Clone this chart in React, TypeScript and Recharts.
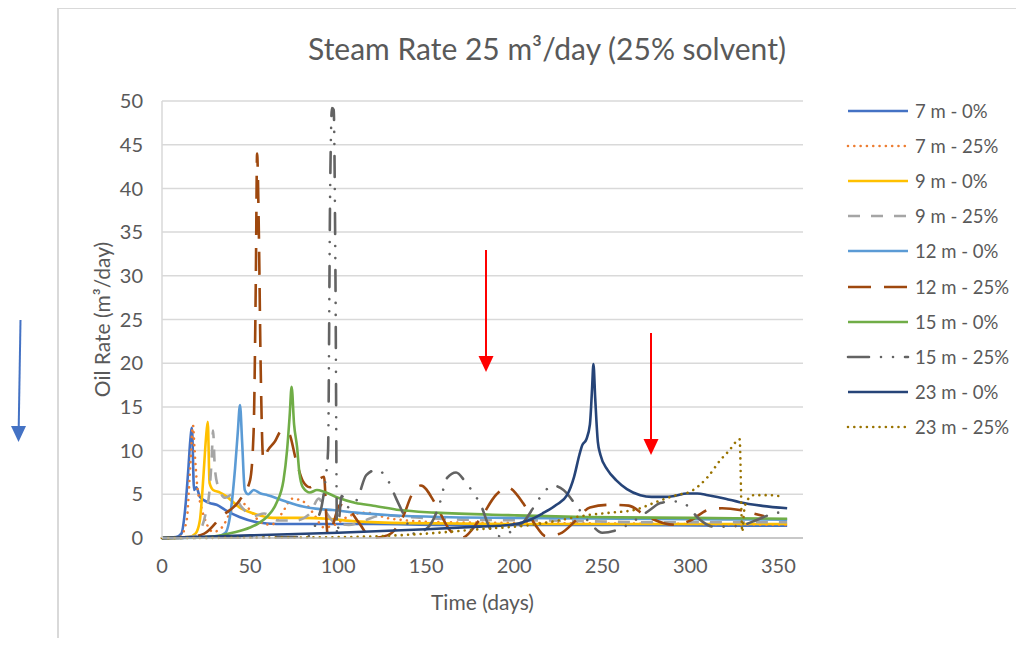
import React from 'react';
import { LineChart, Line, XAxis, YAxis, CartesianGrid, Legend, Label } from 'recharts';

// ---- tick labels ----
const xTicks = [0, 50, 100, 150, 200, 250, 300, 350];
const yTicks = [0, 5, 10, 15, 20, 25, 30, 35, 40, 45, 50];

// ---- series: time (days) and oil rate (m3/day) ----
const t7m0 = [0, 8, 11, 13, 15, 16, 17, 18.2, 19.5, 21.5, 24, 27, 31, 36, 44, 54, 65, 90, 120, 160, 200, 260, 320, 355];
const v7m0 = [0, 0.1, 0.5, 3, 8, 11, 12.6, 5.5, 5.8, 4.7, 4.3, 4, 3.8, 3.2, 2.4, 1.8, 1.6, 1.6, 1.6, 1.5, 1.5, 1.5, 1.4, 1.4];

const t7m25 = [0, 10, 14, 16, 17.6, 18.5, 20, 22, 25, 29, 34, 39, 44, 50, 56, 62, 68, 74, 80, 86, 92, 98, 106, 116, 130, 160, 220, 300, 355];
const v7m25 = [0, 0.1, 2, 8, 12.9, 10, 6, 3.8, 1.8, 0.7, 1.2, 3, 4.2, 3.2, 1.8, 1.5, 2.8, 4.5, 4.2, 2.8, 1.2, 1.5, 2.5, 2.9, 2.2, 1.8, 1.7, 1.6, 1.5];

const t9m0 = [0, 15, 19, 21.5, 23.5, 25, 26, 27, 29, 33, 37, 44, 52, 63, 80, 94, 110, 140, 200, 280, 355];
const v9m0 = [0, 0.1, 0.5, 2, 7, 11.5, 13.3, 6.3, 5.5, 5.2, 4.7, 3.5, 2.8, 2.3, 2.3, 2.2, 1.9, 1.7, 1.6, 1.6, 1.6];

const t9m25 = [0, 18, 22, 25, 27, 28.2, 29, 30, 32, 36, 40, 45, 52, 58, 66, 76, 84, 89, 93, 98, 106, 115, 125, 140, 170, 220, 280, 355];
const v9m25 = [0, 0.2, 1, 3, 5.5, 9, 12.3, 8, 5.8, 4.6, 5, 3.6, 2.5, 2.8, 2, 2, 2.8, 4.5, 3, 1.8, 1.5, 2, 2.6, 2.4, 2.1, 2, 1.8, 1.8];

const t12m0 = [0, 30, 36, 39, 41.5, 43, 44.3, 45.5, 47, 49, 52, 56, 60, 70, 80, 90, 97, 110, 130, 158, 200, 260, 355];
const v12m0 = [0, 0.1, 0.6, 3, 8, 12, 15.2, 11, 5.5, 5, 5.5, 5.1, 4.9, 4.2, 3.6, 3.3, 3.2, 2.9, 2.6, 2.4, 2.3, 2.2, 2.1];

const t12m25 = [0, 15, 24, 34, 44, 50, 52, 53.3, 54, 55, 56, 57.5, 60, 64, 68, 72, 76, 80, 84, 88, 92, 94, 97, 101, 106, 112, 119, 128, 137, 142, 147, 155, 163, 170, 180, 190, 196, 205, 212, 218, 226, 235, 243, 255, 265, 275, 285, 292, 300, 310, 318, 328, 336, 342];
const v12m25 = [0, 0.1, 0.5, 2.5, 4.3, 6.6, 12, 30, 44, 35, 20, 9, 10, 11, 12.3, 12, 9, 6.5, 5.8, 6.5, 7, 0.5, 1.5, 3.8, 3.3, 1.7, 0, 0.3, 2.5, 5, 6, 4, 1, 0, 2, 5, 5.8, 4, 1.5, 0.2, 0.5, 2, 3.5, 3.8, 3.7, 2.5, 1.7, 1.5, 2, 3.2, 3.4, 3.2, 2.8, 2.5];

const t15m0 = [0, 20, 30, 40, 50, 55, 60, 65, 69, 71, 72.5, 73.6, 75, 76.7, 78, 80, 84, 88, 92, 100, 110, 120, 135, 155, 200, 240, 300, 355];
const v15m0 = [0, 0.05, 0.2, 0.6, 1.2, 1.7, 2.5, 4, 6.6, 10, 14, 17.3, 13, 10.4, 7.5, 5.8, 5.2, 5.5, 5.3, 4.6, 4, 3.7, 3.2, 2.9, 2.6, 2.4, 2.3, 2.2];

const t15m25 = [0, 50, 75, 83, 88, 91, 93, 94.3, 95.5, 96.5, 97.5, 98.5, 99.4, 100.5, 102, 106, 111, 116, 122, 128, 133, 137, 143, 151, 157, 162, 167, 172, 177, 181, 186, 192, 200, 206, 211, 216, 222, 228, 236, 244, 250, 258, 266, 272, 277, 283, 290, 296, 306, 313, 321, 330, 337, 343, 348, 355];
const v15m25 = [0, 0.05, 0.1, 0.2, 2, 4, 7, 10, 40, 49.2, 49, 30, 0.3, 2, 4.8, 3.5, 4.5, 7.2, 7.8, 6.7, 4.5, 2.8, 0.5, 1.2, 3.5, 6.9, 7.5, 6.5, 5.1, 3.8, 1.2, 0.2, 1, 2, 3.5, 5, 6, 5.5, 3.5, 1.5, 0.6, 0.9, 1.7, 2.5, 3.2, 4, 4.2, 4, 2, 1.3, 1.3, 1.5, 2, 2.5, 2.9, 2.9];

const t23m0 = [0, 50, 100, 150, 180, 198, 208, 216, 224, 230, 234, 237, 238.6, 241, 243, 244.2, 245, 246, 247.5, 249, 253, 258, 264, 271.6, 278, 285, 291, 298, 304, 310, 320, 328, 340, 355];
const v23m0 = [0, 0.3, 0.6, 1.0, 1.3, 1.5, 2, 2.8, 3.8, 4.9, 7, 9.5, 10.6, 11.3, 13, 17, 19.9, 16, 11, 9.5, 7.8, 6.6, 5.6, 4.9, 4.7, 4.7, 4.8, 5.1, 5.1, 4.9, 4.5, 4.1, 3.7, 3.4];

const t23m25 = [0, 100, 150, 180, 210, 225, 241, 255, 268, 283, 292, 300, 305, 310, 317, 322, 327, 328, 329.5, 330.5, 332, 336, 345, 353];
const v23m25 = [0, 0.1, 0.5, 1, 1.5, 2, 2.6, 2.9, 3.2, 4.3, 4.9, 5.3, 6, 7, 8.9, 10, 11.2, 11.3, 0.7, 3, 4.2, 4.9, 4.9, 4.7];

const seriesNames = ['7 m - 0%', '7 m - 25%', '9 m - 0%', '9 m - 25%', '12 m - 0%', '12 m - 25%', '15 m - 0%', '15 m - 25%', '23 m - 0%', '23 m - 25%'];

const toData = (t: number[], v: number[]) => t.map((x, i) => ({ t: x, v: v[i] }));

type Style = { color: string; dash?: string; cap: 'butt' | 'round' };
const styles: Style[] = [
  { color: '#4472C4', cap: 'butt' },
  { color: '#ED7D31', dash: '0.01 6.3', cap: 'round' },
  { color: '#FFC000', cap: 'butt' },
  { color: '#A5A5A5', dash: '12 11', cap: 'butt' },
  { color: '#5B9BD5', cap: 'butt' },
  { color: '#9E480E', dash: '23 13', cap: 'butt' },
  { color: '#70AD47', cap: 'butt' },
  { color: '#636363', dash: '21 12 0.01 12 0.01 12', cap: 'round' },
  { color: '#264478', cap: 'butt' },
  { color: '#997300', dash: '0.01 6.3', cap: 'round' },
];

const rawSeries = [
  [t7m0, v7m0], [t7m25, v7m25], [t9m0, v9m0], [t9m25, v9m25], [t12m0, v12m0],
  [t12m25, v12m25], [t15m0, v15m0], [t15m25, v15m25], [t23m0, v23m0], [t23m25, v23m25],
];

const series = rawSeries.map(([t, v], i) => ({
  name: seriesNames[i],
  data: toData(t, v),
  ...styles[i],
}));

const FONT = "Lato, 'Open Sans', sans-serif";
const TXT = '#595959';

const LegendContent = () => (
  <div style={{ fontFamily: FONT }}>
    {series.map((s) => (
      <div key={s.name} style={{ display: 'flex', alignItems: 'center', height: 35.2 }}>
        <svg width={66} height={12}>
          <line x1={2} y1={6} x2={62} y2={6} stroke={s.color} strokeWidth={2.6}
            strokeDasharray={s.dash} strokeLinecap={s.cap} />
        </svg>
        <span style={{ fontSize: 18.5, color: TXT, marginLeft: 3, whiteSpace: 'nowrap' }}>{s.name}</span>
      </div>
    ))}
  </div>
);

export default function App() {
  return (
    <div style={{ position: 'relative', width: 1024, height: 646, margin: -8, overflow: 'hidden', background: '#fff', fontFamily: FONT }}>
      <div style={{ position: 'absolute', left: 57, top: 7, width: 1100, height: 800, borderLeft: '2px solid #D9D9D9', borderTop: '2px solid #D9D9D9', boxSizing: 'border-box' }} />
      <div style={{ position: 'absolute', left: 0, top: 30, width: 1094, textAlign: 'center', fontSize: 30, color: TXT, fontFamily: FONT }}>
        Steam Rate 25 m³/day (25% solvent)
      </div>
      <div style={{ position: 'absolute', left: 0, top: 0 }}>
        <LineChart width={1024} height={646} margin={{ top: 101, right: 221, bottom: 28, left: 100 }}>
          <CartesianGrid vertical={false} stroke="#D9D9D9" strokeWidth={1.5} />
          <XAxis type="number" dataKey="t" domain={[0, 364]} ticks={xTicks} interval={0}
            tickLine={false} axisLine={{ stroke: '#BFBFBF', strokeWidth: 1.5 }} height={80} tickMargin={15}
            tick={{ fill: TXT, fontSize: 20, fontFamily: FONT }}>
            <Label value="Time (days)" position="insideBottom" offset={8}
              style={{ fill: TXT, fontSize: 21, fontFamily: FONT }} />
          </XAxis>
          <YAxis type="number" domain={[0, 50]} ticks={yTicks} interval={0} width={62}
            tickLine={false} axisLine={{ stroke: '#D9D9D9', strokeWidth: 1.5 }} tickMargin={13}
            tick={{ fill: TXT, fontSize: 20, fontFamily: FONT }}>
            <Label value="Oil Rate (m³/day)" angle={-90} position="insideLeft" offset={3}
              style={{ fill: TXT, fontSize: 21, fontFamily: FONT, textAnchor: 'middle' }} />
          </YAxis>
          <Legend layout="vertical" align="center" verticalAlign="middle"
            wrapperStyle={{ left: 846, top: 93, width: 178 }} content={<LegendContent />} />
          {series.map((s) => (
            <Line key={s.name} name={s.name} data={s.data} dataKey="v" type="monotone"
              stroke={s.color} strokeWidth={2.6} strokeDasharray={s.dash} strokeLinecap={s.cap}
              strokeLinejoin="round" dot={false} activeDot={false} isAnimationActive={false} />
          ))}
        </LineChart>
      </div>
      <svg width={1024} height={646} style={{ position: 'absolute', left: 0, top: 0, pointerEvents: 'none' }}>
        <line x1={486} y1={250} x2={486} y2={358} stroke="#FF0000" strokeWidth={2} />
        <polygon points="478.5,356 493.5,356 486,372" fill="#FF0000" />
        <line x1={651} y1={333} x2={651} y2={441} stroke="#FF0000" strokeWidth={2} />
        <polygon points="643.5,439 658.5,439 651,455" fill="#FF0000" />
        <line x1={20.5} y1={320} x2={18.7} y2={428} stroke="#4472C4" strokeWidth={2} />
        <polygon points="11,426 26,426 18.5,442" fill="#4472C4" />
      </svg>
    </div>
  );
}
